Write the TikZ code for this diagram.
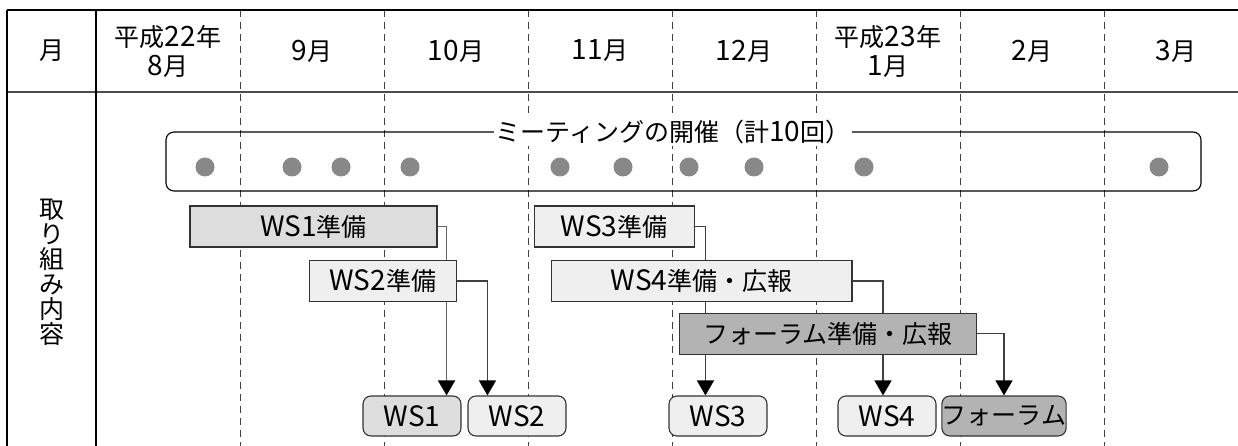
\documentclass[tikz,border=0pt]{standalone}
\usepackage{fontspec}
\setmainfont{Noto Sans CJK JP}
\newfontfamily\latinfont[Scale=1.12]{Noto Sans CJK JP}
\newcommand{\ltx}[1]{{\latinfont #1}}
\usetikzlibrary{arrows.meta}
\pgfdeclarelayer{background}
\pgfsetlayers{background,main}

\definecolor{prepA}{HTML}{DCDDDC}
\definecolor{prepB}{HTML}{EEEFEE}
\definecolor{prepC}{HTML}{B3B3B3}
\definecolor{dotgray}{HTML}{888888}

\begin{document}
\begin{tikzpicture}[x=1pt, y=-1pt, >={Triangle[width=17pt,length=15pt,color=black]},
	font=\fontsize{25}{25}\selectfont,
	bar/.style={draw=black!80, line width=1.1pt, minimum height=41pt, inner sep=0pt},
	result/.style={draw=black!80, line width=1.1pt, rounded corners=8pt, minimum height=40pt, minimum width=98pt, inner sep=0pt},
	conn/.style={->, draw=black!75, line width=1.2pt},
	month/.style={align=center, font=\fontsize{25}{29}\selectfont}]
		\useasboundingbox (0,0) rectangle (1238,446);
		% Рамка таблицы
		\draw[line width=1.2pt] (7,10) -- (1238,10);
		\draw[line width=1.4pt, black!70] (7,92) -- (1238,92);
		\draw[line width=1.2pt] (7,10) -- (7,446);
		\draw[line width=1.2pt] (96,10) -- (96,446);
		
		% Границы месяцев
		\begin{pgfonlayer}{background}
		\draw[black!75, line width=1pt, dash pattern=on 7pt off 5pt] (240,10) -- (240,446);
		\draw[black!75, line width=1pt, dash pattern=on 7pt off 5pt] (384,10) -- (384,446);
		\draw[black!75, line width=1pt, dash pattern=on 7pt off 5pt] (528,10) -- (528,446);
		\draw[black!75, line width=1pt, dash pattern=on 7pt off 5pt] (672,10) -- (672,446);
		\draw[black!75, line width=1pt, dash pattern=on 7pt off 5pt] (816,10) -- (816,446);
		\draw[black!75, line width=1pt, dash pattern=on 7pt off 5pt] (960,10) -- (960,446);
		\draw[black!75, line width=1pt, dash pattern=on 7pt off 5pt] (1104,10) -- (1104,446);
		\end{pgfonlayer}
		
		% Заголовок
		\node[month] (mon) at (51.5,51) {月};
		\node[month] (aug) at (168,51) {平成\ltx{22}年\\\ltx{8}月};
		\node[month] (sep) at (312,51) {\ltx{9}月};
		\node[month] (oct) at (456,51) {\ltx{10}月};
		\node[month] (nov) at (600,51) {\ltx{11}月};
		\node[month] (dec) at (744,51) {\ltx{12}月};
		\node[month] (jan) at (888,51) {平成\ltx{23}年\\\ltx{1}月};
		\node[month] (feb) at (1032,51) {\ltx{2}月};
		\node[month] (mar) at (1176,51) {\ltx{3}月};
		
		\node[align=center] (task) at (51.5,272) {取\\り\\組\\み\\内\\容};
		
		% ミーティング
		\draw[line width=1.1pt, rounded corners=8pt] (166,132) rectangle (1201,191);
		\node[fill=white, inner sep=2pt] (meet) at (673,132) {ミーティングの開催（計\ltx{10}回）};
		
		\fill[dotgray] (205,167) circle (9.5pt);
		\fill[dotgray] (292,167) circle (9.5pt);
		\fill[dotgray] (341,167) circle (9.5pt);
		\fill[dotgray] (410,167) circle (9.5pt);
		\fill[dotgray] (560,167) circle (9.5pt);
		\fill[dotgray] (623,167) circle (9.5pt);
		\fill[dotgray] (689,167) circle (9.5pt);
		\fill[dotgray] (754,167) circle (9.5pt);
		\fill[dotgray] (864,167) circle (9.5pt);
		\fill[dotgray] (1159,167) circle (9.5pt);
		
		% Подготовка
		\node[bar, fill=prepA, minimum width=247pt] (ws1prep) at (313.5,226.5) {\ltx{WS1}準備};
		\node[bar, fill=prepB, minimum width=146.5pt] (ws2prep) at (382.8,281) {\ltx{WS2}準備};
		\node[bar, fill=prepB, minimum width=160pt] (ws3prep) at (614.2,226.5) {\ltx{WS3}準備};
		\node[bar, fill=prepB, minimum width=300.6pt] (ws4prep) at (701.7,281) {\ltx{WS4}準備・広報};
		\node[bar, fill=prepC, minimum width=297.4pt] (forprep) at (828,333.8) {フォーラム準備・広報};
		
		% Итоги
		\node[result, fill=prepA] (ws1) at (412,416) {\ltx{WS1}};
		\node[result, fill=prepB] (ws2) at (517,416) {\ltx{WS2}};
		\node[result, fill=prepB] (ws3) at (718,416) {\ltx{WS3}};
		\node[result, fill=prepB] (ws4) at (887,416) {\ltx{WS4}};
		\node[result, fill=prepC, minimum width=116pt] (forum) at (1004,416) {フォーラム};
		
		% Стрелки
		\begin{pgfonlayer}{background}
		\draw[conn, black!60, line width=1.6pt] (ws1prep.east) -| ([xshift=-15pt]ws1.north east);
		\draw[conn] (ws2prep.east) -| ([xshift=20pt]ws2.north west);
		\draw[conn] (ws3prep.east) -| ([xshift=37pt]ws3.north west);
		\draw[conn] (ws4prep.east) -| ([xshift=-4pt]ws4.north);
		\draw[conn] (forprep.east) -| (forum.north);
		\end{pgfonlayer}
		
\end{tikzpicture}
\end{document}
